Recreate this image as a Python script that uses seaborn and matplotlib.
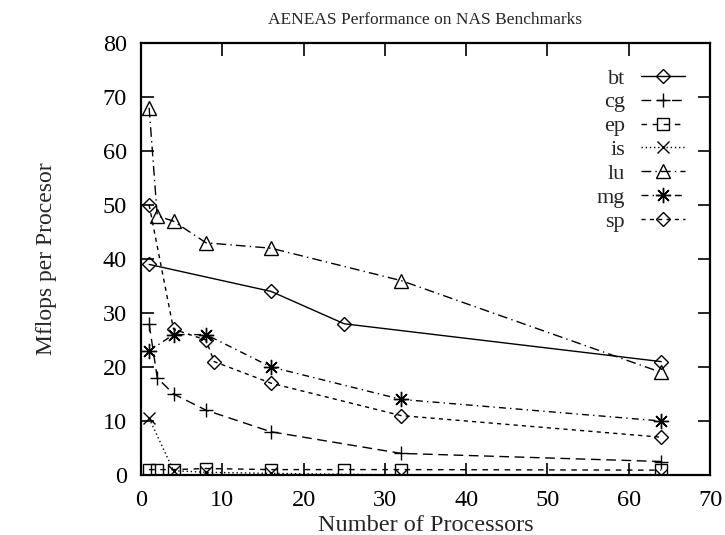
import matplotlib
matplotlib.use("Agg")
import matplotlib.pyplot as plt
import seaborn as sns
import pandas as pd

# ---- data ----
bt_x = [1, 16, 25, 64]
bt_y = [39, 34, 28, 21]
cg_x = [1, 2, 4, 8, 16, 32, 64]
cg_y = [28, 18, 15, 12, 8, 4, 2.5]
ep_x = [1, 2, 4, 8, 16, 25, 32, 64]
ep_y = [1.0, 1.0, 1.0, 1.2, 1.0, 1.0, 1.0, 0.9]
is_x = [1, 4, 8, 16, 32, 64]
is_y = [10.5, 0.8, 0.5, 0.3, 0.0, 0.0]
lu_x = [1, 2, 4, 8, 16, 32, 64]
lu_y = [68, 48, 47, 43, 42, 36, 19]
mg_x = [1, 4, 8, 16, 32, 64]
mg_y = [23, 26, 26, 20, 14, 10]
sp_x = [1, 4, 8, 9, 16, 32, 64]
sp_y = [50, 27, 25, 21, 17, 11, 7]

title = "AENEAS Performance on NAS Benchmarks"
xlabel = "Number of Processors"
ylabel = "Mflops per Procesor"

sns.set_theme(style="ticks")
plt.rcParams['font.family'] = ['Liberation Serif', 'DejaVu Serif']

fig = plt.figure(figsize=(7.25, 5.35), dpi=100)
ax = fig.add_axes([141 / 725, 1 - 475 / 535, (710 - 141) / 725, (475 - 43) / 535])

series = [
    ("bt", bt_x, bt_y, "D", None, 7.5),
    ("cg", cg_x, cg_y, "+", (7, 4), 10),
    ("ep", ep_x, ep_y, "s", (4, 4), 8.5),
    ("is", is_x, is_y, "x", (1, 2), 9),
    ("lu", lu_x, lu_y, "^", (7, 3, 1, 3), 9.5),
    ("mg", mg_x, mg_y, (8, 2, 0), (5, 3, 1, 3), 11),
    ("sp", sp_x, sp_y, "D", (3, 3), 7.5),
]

for name, xs, ys, mk, dash, ms in series:
    df = pd.DataFrame({"x": xs, "y": ys})
    sns.lineplot(data=df, x="x", y="y", ax=ax, color="black", linewidth=1.0,
                 marker=mk, markersize=ms, markerfacecolor="none",
                 markeredgecolor="black", markeredgewidth=1.0,
                 label=name, sort=False)
    l = ax.get_lines()[-1]
    if dash is not None:
        l.set_dashes(dash)

ax.set_xlim(0, 70)
ax.set_ylim(0, 80)
ax.set_xticks(range(0, 71, 10))
ax.set_yticks(range(0, 81, 10))
ax.tick_params(direction="in", length=9, width=1.2, top=True, right=True,
               labelsize=17.5, colors="black")
ax.tick_params(axis="x", pad=11)
ax.tick_params(axis="y", pad=10)
for s in ax.spines.values():
    s.set_linewidth(1.6)
    s.set_color("black")

ax.set_title(title, fontsize=12.5, pad=14)
ax.set_xlabel(xlabel, fontsize=17.5, labelpad=3)
ax.set_ylabel(ylabel, fontsize=17, labelpad=33)

leg = ax.legend(loc="upper right", bbox_to_anchor=((685 - 141) / 569, (475 - 68) / 432),
                frameon=False, markerfirst=False, handlelength=2.0, numpoints=1,
                fontsize=16, labelspacing=0.15, handletextpad=0.7,
                borderaxespad=0.0, borderpad=0.0)

fig.savefig("out.png", dpi=100)
